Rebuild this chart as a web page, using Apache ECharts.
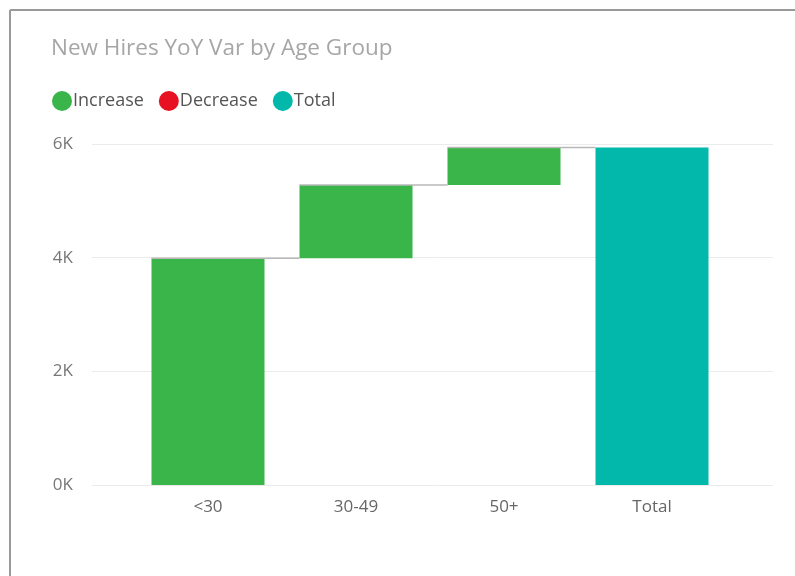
<!DOCTYPE html>
<html><head><meta charset="utf-8">
<script src="https://cdn.jsdelivr.net/npm/echarts@6/dist/echarts.min.js"></script>
<style>html,body{margin:0;padding:0;background:#fff}#c{width:795px;height:576px}</style>
</head><body><div id="c"></div>
<script>
const categories = ['<30', '30-49', '50+', 'Total'];
const deltas = [3990, 1290, 660];          // increases per age group
const totalValue = 5940;
const yTicks = [0, 2000, 4000, 6000];
const legendNames = ['Increase', 'Decrease', 'Total'];
const colors = { Increase: '#3AB54A', Decrease: '#E81123', Total: '#01B8AA' };

// build waterfall pieces
const base = [], inc = [], tot = [];
let run = 0;
const connectorData = [];
deltas.forEach((d, i) => {
  base.push(run); inc.push(d); tot.push('-');
  run += d;
  connectorData.push([i, run]);
});
base.push(0); inc.push('-'); tot.push(totalValue);

const font = '"Open Sans", "Noto Sans", sans-serif';
const BW = 113;
const chart = echarts.init(document.getElementById('c'), null, { renderer: 'canvas' });
chart.setOption({
  animation: false,
  title: { text: 'New Hires YoY Var by Age Group', left: 46, top: 32,
    textStyle: { color: '#A6A6A6', fontSize: 22.5, fontWeight: 'normal', fontFamily: font } },
  legend: { left: 47, top: 86, itemGap: 15, itemWidth: 20, itemHeight: 20, icon: 'circle',
    data: legendNames, selectedMode: false,
    textStyle: { color: '#555', fontSize: 18, fontFamily: font, padding: [0, 0, 0, -4] } },
  graphic: [
    { type: 'line', shape: { x1: 10, y1: 10, x2: 795, y2: 10 }, style: { stroke: '#9a9a9a', lineWidth: 2 } },
    { type: 'line', shape: { x1: 10, y1: 10, x2: 10, y2: 576 }, style: { stroke: '#9a9a9a', lineWidth: 2 } }
  ],
  grid: [
    { left: 92, right: 22, top: 144, bottom: 91 },
    { left: 134, right: 69, top: 144, bottom: 91 }
  ],
  xAxis: [
    { gridIndex: 0, type: 'value', min: 0, max: 1, show: false },
    { gridIndex: 1, type: 'category', data: categories,
      axisLine: { show: false }, axisTick: { show: false },
      axisLabel: { color: '#666', fontSize: 17, fontFamily: font, margin: 14 } }
  ],
  yAxis: [
    { gridIndex: 0, type: 'value', min: 0, max: 6000, interval: 2000,
      axisLine: { show: false }, axisTick: { show: false },
      splitLine: { lineStyle: { color: '#ebebeb', width: 1 } },
      axisLabel: { color: '#777', fontSize: 17, fontFamily: font, margin: 19,
        formatter: v => yTicks.includes(v) ? (v / 1000) + 'K' : '' } },
    { gridIndex: 1, type: 'value', min: 0, max: 6000, show: false, splitLine: { show: false } }
  ],
  series: [
    { name: 'base', type: 'bar', stack: 'w', xAxisIndex: 1, yAxisIndex: 1, data: base,
      itemStyle: { color: 'transparent' }, barWidth: BW, silent: true },
    { name: 'Increase', type: 'bar', stack: 'w', xAxisIndex: 1, yAxisIndex: 1, data: inc,
      itemStyle: { color: colors.Increase }, barWidth: BW },
    { name: 'Decrease', type: 'bar', stack: 'w', xAxisIndex: 1, yAxisIndex: 1, data: [],
      itemStyle: { color: colors.Decrease }, barWidth: BW },
    { name: 'Total', type: 'bar', stack: 'w', xAxisIndex: 1, yAxisIndex: 1, data: tot,
      itemStyle: { color: colors.Total }, barWidth: BW },
    { name: 'connector', type: 'custom', xAxisIndex: 1, yAxisIndex: 1, data: connectorData, z: 3, silent: true,
      renderItem: (params, api) => {
        const i = api.value(0), v = api.value(1);
        const p1 = api.coord([i, v]);
        const p2 = api.coord([i + 1, v]);
        return { type: 'line', shape: { x1: p1[0] - BW / 2, y1: p1[1], x2: p2[0] - BW / 2, y2: p2[1] },
          style: { stroke: '#b8b8b8', lineWidth: 1.5 } };
      } }
  ]
});
</script></body></html>
